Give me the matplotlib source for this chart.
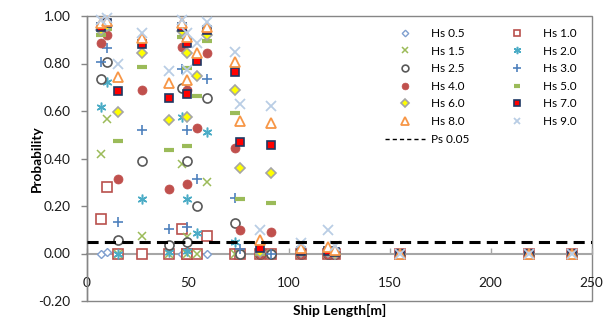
import matplotlib
matplotlib.use('Agg')
import matplotlib.pyplot as plt
from matplotlib.lines import Line2D
from matplotlib.patches import Rectangle

plt.rcParams['font.family'] = ['Lato', 'DejaVu Sans']
plt.rcParams['lines.scale_dashes'] = False

# ---------------- data ----------------
ship_length = [7, 10, 15.5, 27.5, 40.5, 47, 49.5, 49.5, 54.5, 59.5,
               73.5, 76, 86, 91, 106, 119.5, 123, 155, 219, 240]

hs_labels = ['Hs 0.5', 'Hs 1.0', 'Hs 1.5', 'Hs 2.0', 'Hs 2.5', 'Hs 3.0', 'Hs 4.0',
             'Hs 5.0', 'Hs 6.0', 'Hs 7.0', 'Hs 8.0', 'Hs 9.0']

p_hs05 = [0, 0.005, 0, 0, 0, 0, 0, 0, 0, 0, 0, 0, 0, 0, 0, 0, 0, 0, 0, 0]
p_hs10 = [0.147, 0.28, 0, 0, 0, 0.104, 0, 0, 0, 0.072, 0, 0, 0, 0, 0, 0, 0, 0, 0, 0]
p_hs15 = [0.42, 0.565, 0, 0.072, 0, 0.375, 0.069, 0, 0, 0.30, 0, 0, 0, 0, 0, 0, 0, 0, 0, 0]
p_hs20 = [0.618, 0.724, 0, 0.231, 0.005, 0.575, 0.228, 0.01, 0.085, 0.51, 0.048, 0, 0, 0, 0, 0, 0, 0, 0, 0]
p_hs25 = [0.735, 0.808, 0.055, 0.389, 0.035, 0.698, 0.39, 0.048, 0.198, 0.654, 0.13, 0, 0, 0, 0, 0, 0, 0, 0, 0]
p_hs30 = [0.808, 0.865, 0.132, 0.522, 0.104, 0.778, 0.52, 0.111, 0.315, 0.735, 0.235, 0.02, 0, 0, 0, 0, 0, 0, 0, 0]
p_hs40 = [0.886, 0.92, 0.315, 0.689, 0.27, 0.868, 0.689, 0.294, 0.527, 0.844, 0.445, 0.101, 0, 0.09, 0, 0, 0, 0, 0, 0]
p_hs50 = [0.92, 0.945, 0.473, 0.787, 0.435, 0.912, 0.78, 0.452, 0.663, 0.893, 0.59, 0.231, 0, 0.214, 0, 0, 0, 0, 0, 0]
p_hs60 = [0.94, 0.96, 0.595, 0.844, 0.562, 0.935, 0.844, 0.576, 0.749, 0.92, 0.689, 0.358, 0.005, 0.341, 0.005, 0.005, 0, 0, 0, 0]
p_hs70 = [0.955, 0.97, 0.685, 0.884, 0.656, 0.955, 0.886, 0.67, 0.812, 0.942, 0.766, 0.47, 0.022, 0.456, 0.01, 0.01, 0.005, 0, 0, 0]
p_hs80 = [0.97, 0.98, 0.745, 0.907, 0.72, 0.97, 0.91, 0.731, 0.846, 0.955, 0.808, 0.558, 0.055, 0.548, 0.025, 0.027, 0.015, 0, 0, 0]
p_hs90 = [0.985, 0.99, 0.80, 0.93, 0.769, 0.985, 0.93, 0.773, 0.886, 0.975, 0.85, 0.628, 0.097, 0.621, 0.045, 0.097, 0.03, 0, 0, 0]

series_values = [p_hs05, p_hs10, p_hs15, p_hs20, p_hs25, p_hs30, p_hs40,
                 p_hs50, p_hs60, p_hs70, p_hs80, p_hs90]

threshold = 0.05
threshold_label = 'Ps 0.05'
x_ticks = [0, 50, 100, 150, 200, 250]
y_ticks = [-0.2, 0.0, 0.2, 0.4, 0.6, 0.8, 1.0]

# ---------------- styles ----------------
styles = [
    dict(marker='D', ms=4.4, mfc='white', mec='#7F9FCF', mew=1.0),       # 0.5
    dict(marker='s', ms=6.5, mfc='white', mec='#B9504D', mew=1.2),       # 1.0
    dict(marker='x', ms=6.0, mfc='none', mec='#9BBB59', mew=1.1),        # 1.5
    dict(marker=(6, 2, 0), ms=7.0, mfc='none', mec='#4BACC6', mew=1.1),  # 2.0
    dict(marker='o', ms=6.5, mfc='white', mec='#595959', mew=1.2),       # 2.5
    dict(marker='+', ms=7.0, mfc='none', mec='#4F81BD', mew=1.2),        # 3.0
    dict(marker='o', ms=6.5, mfc='#C0504D', mec='#C0504D', mew=0.5),     # 4.0
    dict(marker='_', ms=6.5, mfc='#9BBB59', mec='#9BBB59', mew=3.0),     # 5.0
    dict(marker='D', ms=5.0, mfc='#FFFF00', mec='#A5A5A5', mew=1.2),     # 6.0
    dict(marker='s', ms=5.5, mfc='#FF0000', mec='#1F3864', mew=1.2),     # 7.0
    dict(marker='^', ms=7.0, mfc='white', mec='#F79646', mew=1.3),       # 8.0
    dict(marker='x', ms=6.5, mfc='none', mec='#B9CDE5', mew=1.3),        # 9.0
]

W, H = 603, 323
fig = plt.figure(figsize=(W / 100, H / 100), dpi=100)
ax_l, ax_r, ax_t, ax_b = 86.7, 591.7, 16.0, 301.0
ax = fig.add_axes([ax_l / W, (H - ax_b) / H, (ax_r - ax_l) / W, (ax_b - ax_t) / H])

handles = []
for lab, vals, st in zip(hs_labels, series_values, styles):
    h, = ax.plot(ship_length, vals, linestyle='none', label=lab, clip_on=False,
                 zorder=3, **st)
    handles.append(h)

ax.plot([x_ticks[0], x_ticks[-1]], [threshold, threshold], color='black', lw=2.2,
        dashes=(8, 4.5), zorder=4)
thr_handle = Line2D([], [], color='black', lw=1.0, dashes=(3, 2.2))

ax.set_xlim(x_ticks[0], x_ticks[-1])
ax.set_ylim(y_ticks[0], y_ticks[-1])
ax.set_xticks(x_ticks)
ax.set_yticks(y_ticks)
ax.set_yticklabels([f'{v:.2f}' for v in y_ticks])
ax.set_xticklabels([str(v) for v in x_ticks])

for s in ['top', 'right']:
    ax.spines[s].set_visible(False)
ax.spines['bottom'].set_position(('data', 0))
ax.spines['bottom'].set_color('#A6A6A6')
ax.spines['bottom'].set_linewidth(1.5)
ax.spines['bottom'].set_zorder(1)
ax.spines['left'].set_color('#868686')
ax.spines['left'].set_linewidth(1.0)
ax.add_patch(Rectangle((0, 0), 1, 1, transform=ax.transAxes, fill=False,
                       edgecolor='#868686', lw=1.0, clip_on=False, zorder=0.5))

ax.tick_params(axis='y', direction='out', length=4, width=1, color='#868686',
               pad=7.5, labelsize=9.8, labelcolor='#1a1a1a')
ax.tick_params(axis='x', direction='in', length=4, width=1, color='#A6A6A6',
               pad=17, labelsize=9.8, labelcolor='#1a1a1a')

ax.set_ylabel('Probability', fontsize=9.8, fontweight='bold')
ax.set_xlabel('Ship Length[m]', fontsize=10, fontweight='bold')
ax.xaxis.set_label_coords(0.5, -0.012)
ax.yaxis.set_label_coords(-0.086, 0.5)

order = [0, 2, 4, 6, 8, 10]
leg_handles = [handles[i] for i in order] + [thr_handle] + [handles[i] for i in [1, 3, 5, 7, 9, 11]]
leg_labels = [hs_labels[i] for i in order] + [threshold_label] + [hs_labels[i] for i in [1, 3, 5, 7, 9, 11]]
leg = ax.legend(leg_handles, leg_labels, ncol=2, loc='upper left',
                bbox_to_anchor=((385 - ax_l) / (ax_r - ax_l), (ax_b - 28) / (ax_b - ax_t)),
                frameon=False, fontsize=8.5, borderpad=0, borderaxespad=0,
                handlelength=3.4, handletextpad=0.5, columnspacing=2.3,
                labelspacing=0.56, markerscale=0.75)

fig.savefig('out.png', dpi=100, facecolor='white')
